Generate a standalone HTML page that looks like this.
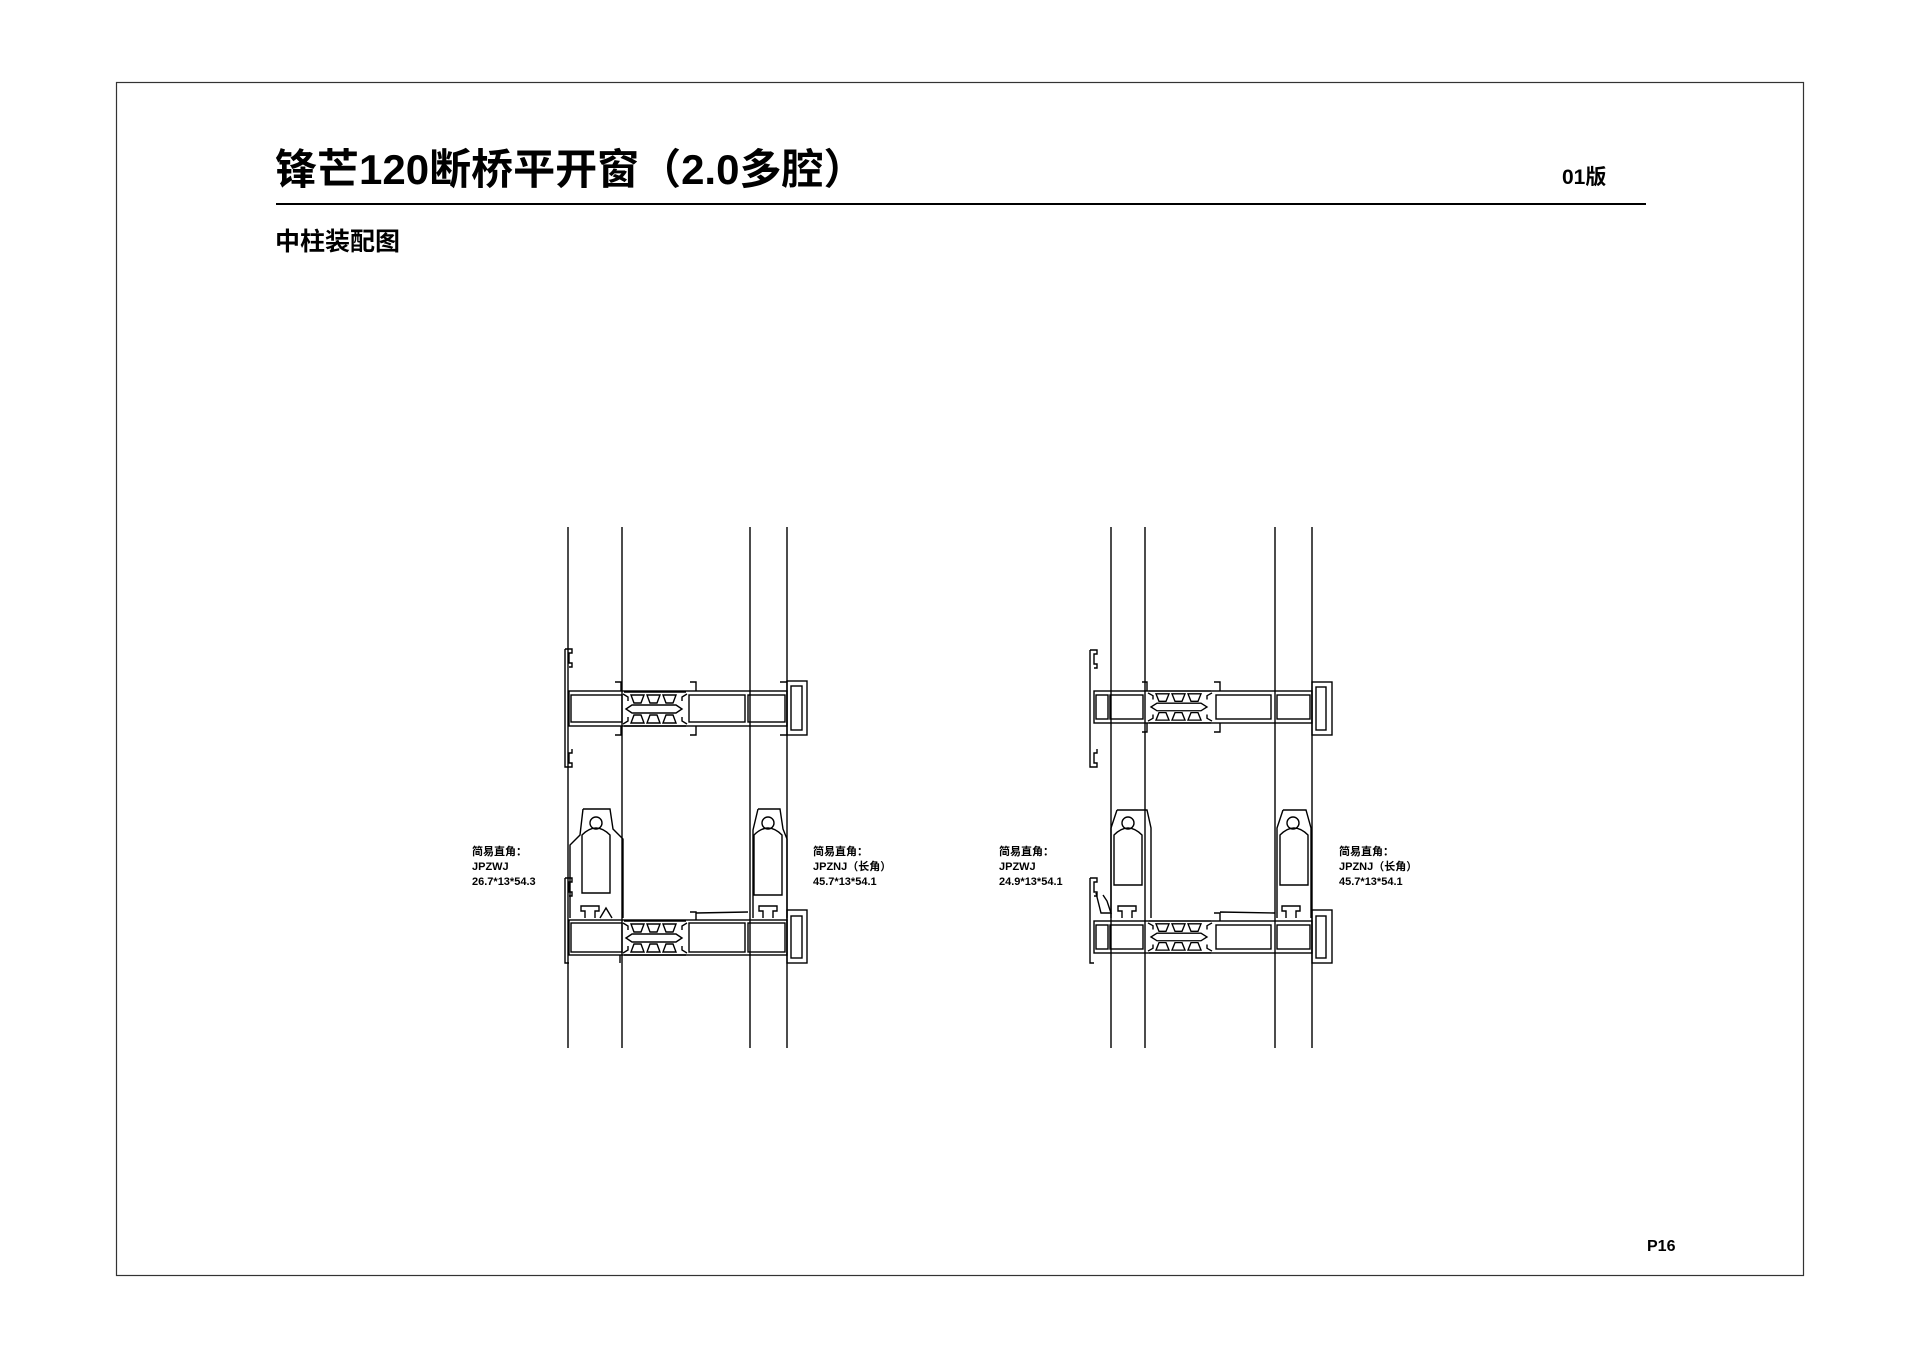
<!DOCTYPE html>
<html><head><meta charset="utf-8"><style>
html,body{margin:0;padding:0;background:#fff;}
svg{display:block}
text{font-family:"Liberation Sans","Noto Sans CJK SC",sans-serif;fill:#000}
</style></head><body>
<svg width="1920" height="1358" viewBox="0 0 1920 1358" xmlns="http://www.w3.org/2000/svg">
<defs>
<g id="tb">
<path d="M8 3 h13 l-3 8 h-7 z M24 3 h13 l-3 8 h-7 z M40 3 h13 l-3 8 h-7 z"/>
<path d="M8 31 h13 l-3 -8 h-7 z M24 31 h13 l-3 -8 h-7 z M40 31 h13 l-3 -8 h-7 z"/>
<path d="M3 17 l6 -4 h44 l6 4 l-6 4 h-44 z"/>
<path d="M1 0 h62 M1 34 h62"/>
<path d="M0 2 l5 3 v4 M64 2 l-5 3 v4 M0 32 l5 -3 v-4 M64 32 l-5 -3 v-4"/>
</g>
</defs>
<rect x="116.5" y="82.5" width="1687" height="1193" fill="none" stroke="#333" stroke-width="1.2"/>
<text x="275" y="184" font-size="42" font-weight="bold">锋芒120断桥平开窗（2.0多腔）</text>
<text x="1562" y="184" font-size="21" font-weight="bold">01版</text>
<line x1="276" y1="204" x2="1646" y2="204" stroke="#000" stroke-width="2"/>
<text x="275" y="250" font-size="25" font-weight="bold">中柱装配图</text>
<text x="1647" y="1251" font-size="16" font-weight="bold">P16</text>

<g fill="none" stroke="#000" stroke-width="1.4">
<!-- Drawing 1 -->
<line x1="568" y1="527" x2="568" y2="1048"/><line x1="622" y1="527" x2="622" y2="1048"/>
<line x1="750" y1="527" x2="750" y2="1048"/><line x1="787" y1="527" x2="787" y2="1048"/>
<!-- top frame -->
<path d="M565 649 h7 v4 h-3 v10 h3 v4 h-3 M565 649 v118 h7 v-4 h-3 v-10 h3 v-4"/>
<rect x="569" y="691" width="218" height="35"/>
<rect x="571" y="695" width="51" height="27"/>
<path d="M615 682 h6 v9 M615 735 h6 v-9 M690 682 h6 v9 M690 735 h6 v-9 M780 682 h7 M780 735 h7"/>
<rect x="689" y="695" width="56" height="27"/><rect x="748" y="695" width="37" height="27"/>
<rect x="787" y="681" width="20" height="54"/><rect x="791" y="686" width="11" height="44"/>
<use href="#tb" transform="translate(623 692)"/>
<!-- bottom frame -->
<path d="M565 878 h7 v4 h-3 v10 h3 v4 h-3 M565 878 v85 h4 M620 955 v8"/>
<rect x="569" y="920" width="218" height="35"/>
<rect x="571" y="923" width="51" height="29"/>
<rect x="689" y="923" width="56" height="29"/><rect x="748" y="923" width="37" height="29"/>
<rect x="787" y="910" width="20" height="53"/><rect x="791" y="916" width="11" height="42"/>
<path d="M690 912 h6 v8 M696 913 l52 -1"/>
<use href="#tb" transform="translate(623 921)"/>
<!-- corner pieces -->
<path d="M583 809 h27 l3 20 l10 10 v79 M570 918 v-73 l10 -10 l3 -26"/>
<circle cx="596" cy="823" r="6"/>
<path d="M582 893 v-58 q14 -14 28 0 v58 z"/>
<path d="M585 918 v-7 h-4 v-5 h18 v5 h-4 v7 M600 918 l6 -10 l6 10"/>
<path d="M758 809 h22 l3 20 l4 10 v79 M753 918 v-88 l5 -21"/>
<circle cx="768" cy="823" r="6"/>
<path d="M754 895 v-60 q14 -14 28 0 v60 z"/>
<path d="M763 918 v-7 h-4 v-5 h18 v5 h-4 v7"/>

<!-- Drawing 2 -->
<line x1="1111" y1="527" x2="1111" y2="1048"/><line x1="1145" y1="527" x2="1145" y2="1048"/>
<line x1="1275" y1="527" x2="1275" y2="1048"/><line x1="1312" y1="527" x2="1312" y2="1048"/>
<path d="M1090 650 h7 v4 h-3 v10 h3 v4 h-3 M1090 650 v117 h7 v-4 h-3 v-10 h3 v-4"/>
<rect x="1094" y="691" width="218" height="32"/>
<rect x="1096" y="695" width="12" height="24"/><rect x="1110" y="695" width="33" height="24"/>
<path d="M1142 682 h5 v9 M1142 732 h5 v-9 M1214 682 h6 v9 M1214 732 h6 v-9"/>
<rect x="1216" y="695" width="55" height="24"/><rect x="1277" y="695" width="33" height="24"/>
<rect x="1312" y="682" width="20" height="53"/><rect x="1316" y="687" width="10" height="43"/>
<use href="#tb" transform="translate(1148 691) scale(1 0.94)"/>
<path d="M1090 878 h7 v4 h-3 v10 h3 v4 h-3 M1090 878 v85 h4"/>
<rect x="1094" y="921" width="218" height="32"/>
<rect x="1096" y="925" width="12" height="24"/><rect x="1110" y="925" width="33" height="24"/>
<rect x="1216" y="925" width="55" height="24"/><rect x="1277" y="925" width="33" height="24"/>
<rect x="1312" y="910" width="20" height="53"/><rect x="1316" y="916" width="10" height="42"/>
<path d="M1214 913 h6 v8 M1220 912 l55 1"/>
<use href="#tb" transform="translate(1148 921) scale(1 0.94)"/>
<path d="M1096 893 l5 20 h10 l-4 -12 l-4 -6"/>
<path d="M1117 810 h30 l4 18 v90 M1111 918 v-90 l6 -18"/>
<circle cx="1128" cy="823" r="6"/>
<path d="M1114 885 v-50 q14 -14 28 0 v50 z"/>
<path d="M1122 918 v-7 h-4 v-5 h18 v5 h-4 v7"/>
<path d="M1283 810 h23 l5 18 v90 M1277 918 v-90 l6 -18"/>
<circle cx="1293" cy="823" r="6"/>
<path d="M1280 885 v-50 q14 -14 28 0 v50 z"/>
<path d="M1286 918 v-7 h-4 v-5 h18 v5 h-4 v7"/>
</g>

<g font-size="11" font-weight="bold">
<text x="472" y="855">简易直角：</text><text x="472" y="870">JPZWJ</text><text x="472" y="885">26.7*13*54.3</text>
<text x="813" y="855">简易直角：</text><text x="813" y="870">JPZNJ（长角）</text><text x="813" y="885">45.7*13*54.1</text>
<text x="999" y="855">简易直角：</text><text x="999" y="870">JPZWJ</text><text x="999" y="885">24.9*13*54.1</text>
<text x="1339" y="855">简易直角：</text><text x="1339" y="870">JPZNJ（长角）</text><text x="1339" y="885">45.7*13*54.1</text>
</g>
</svg>
</body></html>
